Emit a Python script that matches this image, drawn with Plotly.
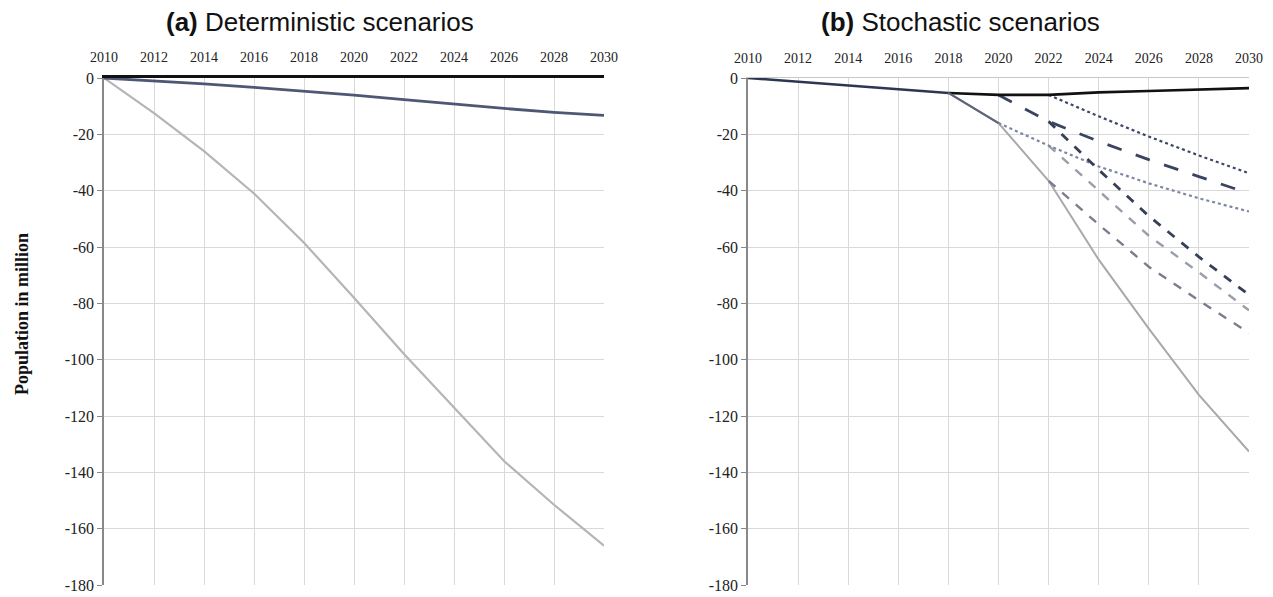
import plotly.graph_objects as go

# years on the x axis (every 2 years)
years = [2010, 2012, 2014, 2016, 2018, 2020, 2022, 2024, 2026, 2028, 2030]
year_ticks = [str(y) for y in years]
pop_ticks = [0, -20, -40, -60, -80, -100, -120, -140, -160, -180]
pop_labels = ['0', '-20', '-40', '-60', '-80', '-100', '-120', '-140', '-160', '-180']

# (a) deterministic scenarios
det_mild = [0, -1.0, -2.1, -3.3, -4.6, -6.1, -7.7, -9.3, -10.8, -12.2, -13.3]
det_severe = [0, -12.5, -26.0, -41.0, -58.5, -78.0, -98.0, -117.0, -136.0, -151.5, -166.0]

# (b) stochastic scenarios - a binary tree splitting in 2018, 2020, 2022
# None = branch not yet started
common = [0, -1.3, -2.5, -3.9, -5.3, None, None, None, None, None, None]
stoch_black = [None, None, None, None, -5.3, -6.0, -6.0, -5.1, -4.6, -4.1, -3.6]
stoch_dark_dot = [None, None, None, None, None, None, -6.0, -13.6, -20.8, -27.5, -33.8]
stoch_dark_longdash = [None, None, None, None, None, -6.0, -15.4, -22.5, -29.0, -35.0, -41.0]
stoch_dark_dash = [None, None, None, None, None, None, -15.4, -32.6, -49.0, -63.5, -77.0]
stoch_gray_solid = [None, None, None, None, -5.3, -16.0, -36.5, -64.5, -89.0, -112.5, -132.6]
stoch_light_dot = [None, None, None, None, None, -16.0, -24.0, -31.4, -37.4, -42.7, -47.4]
stoch_gray_dash = [None, None, None, None, None, None, -24.0, -40.0, -56.0, -69.0, -82.5]
stoch_slate_dash = [None, None, None, None, None, None, -36.5, -52.0, -67.0, -79.0, -90.5]

W, H = 1273, 597


def px_x(p):
    return p / W


def px_y(p):
    return 1 - p / H


fig = go.Figure()

# panel (a)
fig.add_trace(go.Scatter(x=years, y=det_severe, mode='lines',
                         line=dict(color='#b5b5b8', width=2.2),
                         xaxis='x', yaxis='y'))
fig.add_trace(go.Scatter(x=years, y=det_mild, mode='lines',
                         line=dict(color='#4e5874', width=2.8), xaxis='x', yaxis='y'))

# panel (b)
series_b = [
    (stoch_gray_solid, '#a9a9ad', 'solid', 2.0),
    (stoch_slate_dash, '#7a7e8c', 'dash', 2.4),
    (stoch_gray_dash, '#9a9ea9', 'dash', 2.4),
    (stoch_light_dot, '#7d87a3', 'dot', 2.2),
    (stoch_dark_dash, '#363f58', 'dash', 2.8),
    (stoch_dark_longdash, '#3a4462', 'longdash', 2.8),
    (stoch_dark_dot, '#3e4866', 'dot', 2.2),
    (stoch_black, '#111111', 'solid', 2.6),
    (common, '#2d3652', 'solid', 2.6),
]
for vals, col, dash, w in series_b:
    fig.add_trace(go.Scatter(x=years, y=vals, mode='lines', connectgaps=False,
                             line=dict(color=col, width=w, dash=dash),
                             xaxis='x2', yaxis='y2'))
# the 2018-2020 lower segment in slate
fig.add_trace(go.Scatter(x=years[4:6], y=[-5.3, -16.0], mode='lines',
                         line=dict(color='#5d6479', width=2.2), xaxis='x2', yaxis='y2'))

tick_font = dict(family='Liberation Serif, Times New Roman, serif', size=16, color='#222222')

xcommon = dict(range=[2010, 2030], tickvals=years, ticktext=year_ticks, side='top',
               showgrid=True, gridcolor='#d9d9d9', gridwidth=1, ticks='',
               ticklabelstandoff=8, automargin=False,
               tickfont=dict(family='Liberation Serif, serif', size=14, color='#222222'),
               zeroline=False, fixedrange=True)
ycommon = dict(range=[-180, 0], tickvals=pop_ticks, ticktext=pop_labels,
               showgrid=True, gridcolor='#d9d9d9', automargin=False,
               gridwidth=1, ticks='outside', ticklen=5, tickcolor='#888888',
               showline=True, linecolor='#888888', linewidth=1.5,
               tickfont=tick_font, zeroline=False, fixedrange=True)

ydom = [px_y(585), px_y(78)]

fig.update_layout(
    width=W, height=H,
    margin=dict(l=0, r=0, t=0, b=0),
    paper_bgcolor='white', plot_bgcolor='white',
    showlegend=False,
    xaxis=dict(xcommon, domain=[px_x(104), px_x(604)], anchor='y',
               showline=True, linecolor='#111111', linewidth=2.5),
    yaxis=dict(ycommon, domain=ydom, anchor='x'),
    xaxis2=dict(xcommon, domain=[px_x(748), px_x(1249)], anchor='y2',
                showline=True, linecolor='#c8c8c8', linewidth=1),
    yaxis2=dict(ycommon, domain=ydom, anchor='x2'),
    annotations=[
        dict(text='<b>(a)</b> Deterministic scenarios', x=px_x(320), y=px_y(22),
             xref='paper', yref='paper', showarrow=False, xanchor='center', yanchor='middle',
             font=dict(family='Liberation Sans, Arial, sans-serif', size=26, color='#111111')),
        dict(text='<b>(b)</b> Stochastic scenarios', x=px_x(960), y=px_y(22),
             xref='paper', yref='paper', showarrow=False, xanchor='center', yanchor='middle',
             font=dict(family='Liberation Sans, Arial, sans-serif', size=26, color='#111111')),
        dict(text='<b>Population in million</b>', x=px_x(22), y=px_y(314),
             xref='paper', yref='paper', showarrow=False, textangle=-90,
             xanchor='center', yanchor='middle',
             font=dict(family='Liberation Serif, Times New Roman, serif', size=18, color='#111111')),
    ],
)

# drop the default 8px body margin so the figure fills the window exactly
fig.write_html("out.html", config={'displayModeBar': False},
               post_script="document.body.style.margin='0';")
